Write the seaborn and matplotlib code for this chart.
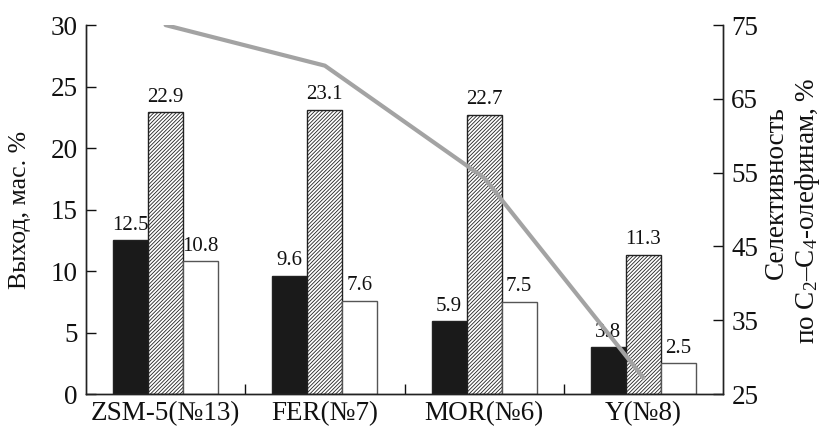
import numpy as np
import pandas as pd
import matplotlib
matplotlib.use("Agg")
import matplotlib.pyplot as plt
import seaborn as sns

categories = ["ZSM-5(№13)", "FER(№7)", "MOR(№6)", "Y(№8)"]
series_names = ["A", "B", "C"]
values_black = [12.5, 9.6, 5.9, 3.8]
values_hatched = [22.9, 23.1, 22.7, 11.3]
values_white = [10.8, 7.6, 7.5, 2.5]
selectivity = [75.0, 69.5, 54.3, 27.2]

sns.set_theme(style="white")
plt.rcParams["font.family"] = ["Liberation Serif", "DejaVu Serif"]
plt.rcParams["mathtext.fontset"] = "custom"
plt.rcParams["mathtext.rm"] = "Liberation Serif"
plt.rcParams["mathtext.it"] = "Liberation Serif:italic"
plt.rcParams["mathtext.default"] = "regular"
plt.rcParams["hatch.linewidth"] = 0.6
plt.rcParams["hatch.color"] = "#333333"

FS = 19.5

df = pd.DataFrame({
    "cat": categories * 3,
    "series": sum([[s] * len(categories) for s in series_names], []),
    "val": values_black + values_hatched + values_white,
})

fig = plt.figure(figsize=(8.22, 4.26), dpi=100)
ax = fig.add_axes([0.1046, 0.0751, 0.775, 0.866])

sns.barplot(data=df, x="cat", y="val", hue="series", order=categories,
            hue_order=series_names,
            palette=["#1a1a1a", "white", "white"], width=0.66, gap=0,
            edgecolor="#222222", linewidth=1.0, legend=False, ax=ax)

for i, cont in enumerate(ax.containers):
    for p in cont:
        if i == 1:
            p.set_hatch("/////////")
            p.set_edgecolor("#222222")
        if i == 2:
            p.set_edgecolor("#555555")
    ax.bar_label(cont, fmt="%.1f", padding=4, fontsize=15, color="#111111")

ax.set_xlim(-0.5, 3.5)
ax.set_ylim(0, 30)
ax.set_yticks(np.arange(0, 31, 5))
ax.set_xlabel("")
ax.set_ylabel("Выход, мас. %", fontsize=18.5, color="#111111")
ax.yaxis.set_label_coords(-0.087, 0.5)
ax.tick_params(axis="y", direction="in", length=7, width=1, labelsize=FS,
               colors="#111111", left=True, pad=6)
ax.tick_params(axis="x", which="major", length=0, labelsize=FS,
               colors="#111111", pad=5)
ax.set_xticks([0.5, 1.5, 2.5], minor=True)
ax.tick_params(axis="x", which="minor", direction="in", length=7, width=1,
               bottom=True, color="#111111")
for s in ["left", "bottom", "right"]:
    ax.spines[s].set_color("#222222")
    ax.spines[s].set_linewidth(1.0)
ax.spines["top"].set_visible(False)

ax2 = ax.twinx()
sns.lineplot(x=np.arange(len(categories)), y=selectivity, ax=ax2,
             color="#a3a3a3", linewidth=3)
ax2.set_ylim(25, 75)
ax2.set_yticks(np.arange(25, 76, 10))
ax2.tick_params(axis="y", direction="in", length=7, width=1, labelsize=FS,
                colors="#111111", right=True, pad=6)
ax2.set_ylabel("")
for s in ["left", "bottom", "right"]:
    ax2.spines[s].set_color("#222222")
    ax2.spines[s].set_linewidth(1.0)
ax2.spines["top"].set_visible(False)

fig.text(0.945, 0.549, "Селективность", rotation=90, ha="center", va="center",
         fontsize=FS, color="#111111")
fig.text(0.982, 0.505, "по C$_2$–C$_4$-олефинам, %", rotation=90, ha="center",
         va="center", fontsize=FS, color="#111111")

fig.savefig("out.png", dpi=100)
